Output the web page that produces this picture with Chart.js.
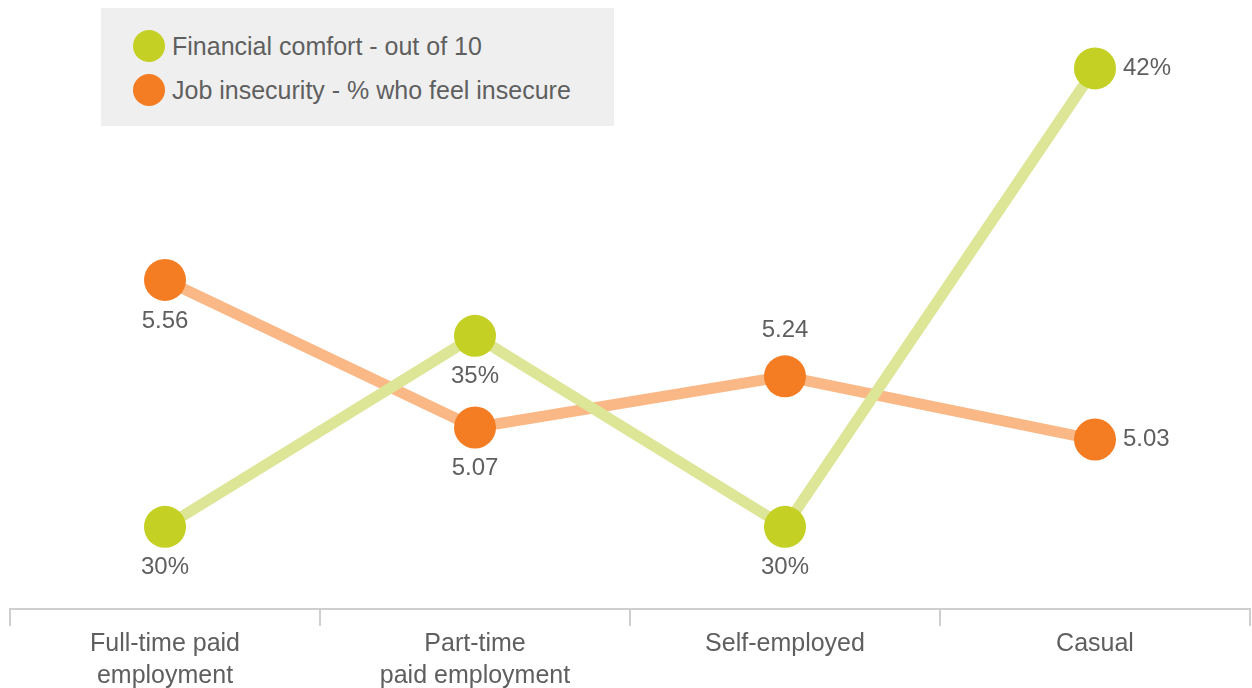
<!DOCTYPE html>
<html>
<head>
<meta charset="utf-8">
<script src="https://cdn.jsdelivr.net/npm/chart.js@4.4.1/dist/chart.umd.min.js"></script>
<style>
  html, body { margin: 0; padding: 0; background: #fff; }
  .wrap { position: relative; width: 1252px; height: 688px; }
  #legend {
    position: absolute; left: 101px; top: 8px; width: 513px; height: 118px;
    background: #efefef; font-family: "Liberation Sans", Arial, sans-serif;
    font-size: 25px; color: #5f5f5f; padding-top: 16px; box-sizing: border-box;
  }
  #legend .item { display: flex; align-items: center; height: 44px; padding-left: 32px; }
  #legend .dot { width: 32px; height: 32px; border-radius: 50%; margin-right: 7px; }
</style>
</head>
<body>
<div class="wrap">
  <canvas id="employmentChart" width="1252" height="688"></canvas>
  <div id="legend"></div>
</div>
<script>
  const categories = [['Full-time paid', 'employment'], ['Part-time', 'paid employment'], 'Self-employed', 'Casual'];
  const comfortValues = [30, 35, 30, 42];
  const insecurityValues = [5.56, 5.07, 5.24, 5.03];

  // where each value label sits relative to its point
  const comfortLabelPos = ['below', 'below', 'below', 'right'];
  const insecurityLabelPos = ['below', 'below', 'above', 'right'];

  const font = '"Liberation Sans", Arial, sans-serif';
  const textColor = '#5f5f5f';

  // value labels next to each point
  const valueLabels = {
    id: 'valueLabels',
    afterDatasetsDraw(chart) {
      const ctx = chart.ctx;
      ctx.save();
      ctx.font = '24px ' + font;
      ctx.fillStyle = textColor;
      ctx.textBaseline = 'middle';
      chart.data.datasets.forEach((ds, i) => {
        chart.getDatasetMeta(i).data.forEach((pt, j) => {
          const text = ds.format(ds.data[j]);
          const pos = ds.labelPos[j];
          if (pos === 'right') {
            ctx.textAlign = 'left';
            ctx.fillText(text, pt.x + 28, pt.y);
          } else {
            ctx.textAlign = 'center';
            ctx.fillText(text, pt.x, pos === 'above' ? pt.y - 46 : pt.y + 41);
          }
        });
      });
      ctx.restore();
    }
  };

  const chart = new Chart(document.getElementById('employmentChart').getContext('2d'), {
    type: 'line',
    data: {
      labels: categories,
      datasets: [
        {
          label: 'Financial comfort - out of 10',
          data: comfortValues,
          yAxisID: 'y',
          borderColor: '#dde597',
          backgroundColor: '#c4d023',
          pointBackgroundColor: '#c4d023',
          borderWidth: 11,
          pointRadius: 21,
          pointBorderWidth: 0,
          tension: 0,
          clip: false,
          labelPos: comfortLabelPos,
          format: v => v + '%'
        },
        {
          label: 'Job insecurity - % who feel insecure',
          data: insecurityValues,
          yAxisID: 'y2',
          borderColor: '#f9b886',
          backgroundColor: '#f47c22',
          pointBackgroundColor: '#f47c22',
          borderWidth: 11,
          pointRadius: 21,
          pointBorderWidth: 0,
          tension: 0,
          clip: false,
          labelPos: insecurityLabelPos,
          format: v => v.toFixed(2)
        }
      ]
    },
    options: {
      responsive: false,
      animation: false,
      layout: { autoPadding: false, padding: { left: 10, right: 2, top: 0, bottom: -6 } },
      plugins: {
        legend: { display: false }, // built below as html
        tooltip: { enabled: false }
      },
      scales: {
        x: {
          offset: true,
          border: { color: '#cfcfcf', width: 2 },
          grid: { offset: true, drawOnChartArea: false, tickLength: 17, color: '#cfcfcf', lineWidth: 2 },
          ticks: { color: textColor, font: { family: font, size: 25, lineHeight: 1.28 }, padding: 2, maxRotation: 0 }
        },
        y: { display: false, min: 27.85, max: 43.79 },
        y2: { display: false, min: 4.467, max: 6.49 }
      }
    },
    plugins: [valueLabels]
  });

  // legend from the datasets
  const legend = document.getElementById('legend');
  chart.data.datasets.forEach(ds => {
    const item = document.createElement('div');
    item.className = 'item';
    item.innerHTML = `<span class="dot" style="background:${ds.pointBackgroundColor};"></span>${ds.label}`;
    legend.appendChild(item);
  });
</script>
</body>
</html>
